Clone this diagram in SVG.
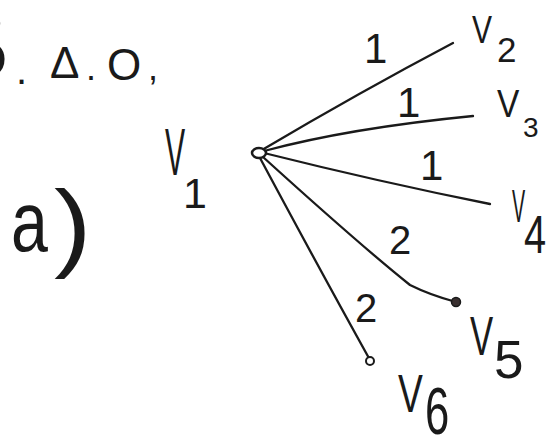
<svg xmlns="http://www.w3.org/2000/svg" width="550" height="437" viewBox="0 0 550 437">
<style>
.t{font-family:"Liberation Sans","DejaVu Sans",sans-serif;fill:#1a1a1a}
.e{fill:none;stroke:#1a1a1a;stroke-width:2.3;stroke-linecap:round}
</style>
<rect width="550" height="437" fill="#ffffff"/>
<g id="heading">
<text class="t" x="-63" y="80" font-size="110">B</text>
<text class="t" x="16" y="84" font-size="40">.</text>
<text class="t" x="50" y="78" font-size="44">Δ</text>
<text class="t" x="86" y="80" font-size="36">.</text>
<text class="t" x="107" y="80" font-size="44">O</text>
<text class="t" x="148" y="80" font-size="36">,</text>
</g>
<g id="part-a">
<text class="t" transform="translate(11,251) scale(0.78,1)" font-size="85">a</text>
<text class="t" transform="translate(54,259) scale(1.15,1)" font-size="98">)</text>
</g>
<g id="connectors">
<path class="e" d="M262,150 Q360,92 453,43"/>
<path class="e" d="M264,151 Q350,128 473,116"/>
<path class="e" d="M264,153 Q380,182 490,204"/>
<path class="e" d="M263,157 Q360,245 410,285 Q430,295 456,302"/>
<path class="e" d="M260,158 Q320,270 370,360"/>
<text class="t" x="364" y="63" font-size="42">1</text>
<text class="t" x="397" y="117" font-size="42">1</text>
<text class="t" x="420" y="180" font-size="42">1</text>
<text class="t" x="389" y="254" font-size="40">2</text>
<text class="t" x="355" y="322" font-size="40">2</text>
</g>
<g id="v1">
<ellipse cx="259" cy="153" rx="7" ry="5" fill="#fff" stroke="#1a1a1a" stroke-width="2.5"/>
<text class="t" transform="translate(165,175) scale(0.45,1)" font-size="67">V</text>
<text class="t" x="183" y="208" font-size="43">1</text>
</g>
<g id="v2">
<text class="t" transform="translate(472,43) scale(0.77,1)" font-size="39">V</text>
<text class="t" x="497" y="62" font-size="35">2</text>
</g>
<g id="v3">
<text class="t" transform="translate(497,117) scale(0.88,1)" font-size="38">V</text>
<text class="t" x="523" y="137" font-size="28">3</text>
</g>
<g id="v4">
<text class="t" transform="translate(512,222) scale(0.42,1)" font-size="47">V</text>
<text class="t" transform="translate(524,253) scale(0.75,1)" font-size="53">4</text>
</g>
<g id="v5">
<circle cx="456" cy="302" r="4.5" fill="#3a3030" stroke="#1a1a1a" stroke-width="1.5"/>
<text class="t" transform="translate(470,355) scale(0.62,1)" font-size="56">V</text>
<text class="t" x="494" y="378" font-size="53">5</text>
</g>
<g id="v6">
<circle cx="370" cy="361" r="4" fill="#fff" stroke="#1a1a1a" stroke-width="2"/>
<text class="t" transform="translate(398,412) scale(0.69,1)" font-size="54">V</text>
<text class="t" transform="translate(425,434) scale(0.66,1)" font-size="66">6</text>
</g>
</svg>
